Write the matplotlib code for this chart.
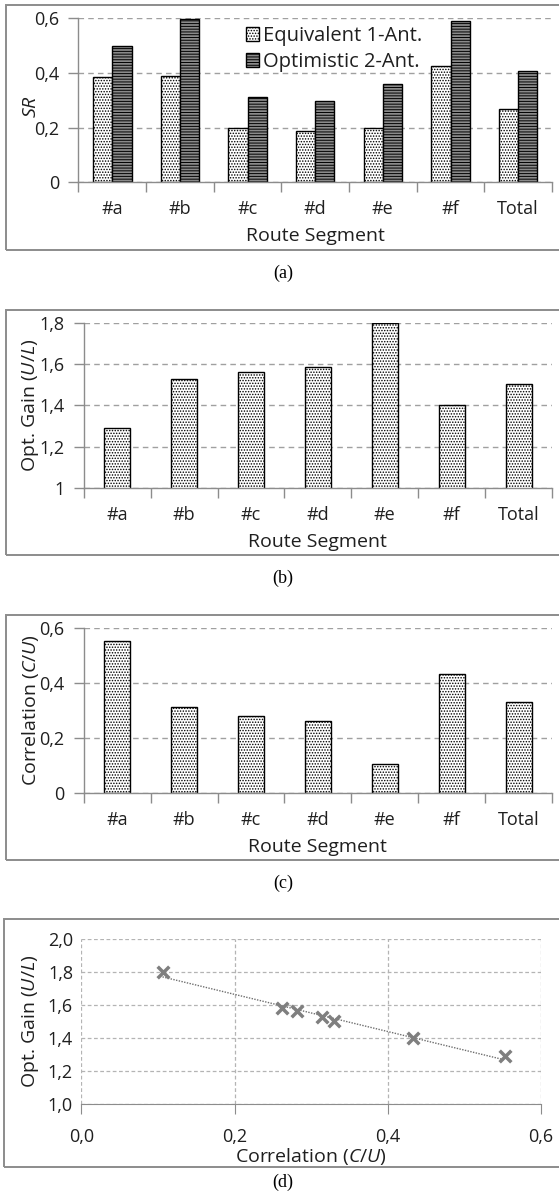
import matplotlib
matplotlib.use("Agg")
import matplotlib.pyplot as plt
import numpy as np
from matplotlib.patches import Rectangle

# route segments and measured values
segments = ["#a", "#b", "#c", "#d", "#e", "#f", "Total"]
sr_equiv = [0.383, 0.388, 0.199, 0.189, 0.199, 0.424, 0.269]
sr_optim = [0.496, 0.596, 0.313, 0.298, 0.358, 0.590, 0.407]
opt_gain = [1.290, 1.526, 1.563, 1.584, 1.800, 1.400, 1.505]
correlation = [0.553, 0.314, 0.281, 0.262, 0.106, 0.433, 0.330]

plt.rcParams["font.family"] = ["Open Sans", "DejaVu Sans"]
plt.rcParams["mathtext.fontset"] = "custom"
plt.rcParams["mathtext.it"] = "Open Sans:italic"
plt.rcParams["mathtext.rm"] = "Open Sans"
plt.rcParams["hatch.linewidth"] = 0.7

W, H = 559, 1200
txt = "#1f1f1f"
axc = "#8c8c8c"
gridc = "#a0a0a0"
fs_tick = 13
fs_lab = 14

fig = plt.figure(figsize=(W / 100, H / 100), dpi=100)


def px_axes(left, right, top, bottom):
    return fig.add_axes([left / W, 1 - bottom / H, (right - left) / W, (bottom - top) / H])


def frame(top, bottom, left=6):
    fig.patches.append(Rectangle((left / W, 1 - bottom / H), (W + 10 - left) / W, (bottom - top) / H,
                                 transform=fig.transFigure, fill=False, edgecolor=axc, lw=1.4))


def caption(s, y):
    fig.text(283 / W, 1 - y / H, s, ha="center", va="center", fontsize=13,
             family="Liberation Serif", color="black")


def bar_axes(ax, ylim, yticks, ylabels, ylabel):
    ax.set_xlim(-0.5, len(segments) - 0.5)
    ax.set_ylim(*ylim)
    ax.set_yticks(yticks)
    ax.set_yticklabels(ylabels)
    ax.set_xticks(range(len(segments)))
    ax.set_xticklabels(segments)
    ax.set_xticks(np.arange(-0.5, len(segments)), minor=True)
    for s in ["top", "right"]:
        ax.spines[s].set_visible(False)
    for s in ["left", "bottom"]:
        ax.spines[s].set_color(axc)
        ax.spines[s].set_linewidth(1.0)
    ax.tick_params(axis="x", which="major", length=0, pad=13, labelsize=fs_tick, labelcolor=txt)
    ax.tick_params(axis="x", which="minor", length=7, color=axc, width=1.0)
    ax.tick_params(axis="y", length=7, color=axc, width=1.0, pad=7, labelsize=fs_tick, labelcolor=txt)
    ax.yaxis.grid(True, ls=(0, (4, 3)), color=gridc, lw=1.0)
    ax.set_axisbelow(True)
    ax.set_xlabel("Route Segment", fontsize=fs_lab, color=txt, labelpad=6)
    ax.set_ylabel(ylabel, fontsize=fs_lab, color=txt)
    ax.yaxis.set_label_coords(-0.091, 0.5)


x = np.arange(len(segments))

# (a) SR per segment
ax1 = px_axes(78.4, 552, 17.8, 182.4)
bw = 0.285
ax1.bar(x - bw / 2, sr_equiv, bw, color="white", edgecolor="black", hatch="......", lw=1.0,
        label="Equivalent 1-Ant.")
ax1.bar(x + bw / 2, sr_optim, bw, color="#8a8a8a", edgecolor="black", hatch="------", lw=1.0,
        label="Optimistic 2-Ant.")
bar_axes(ax1, (0, 0.6), [0, 0.2, 0.4, 0.6], ["0", "0,2", "0,4", "0,6"], "$\\mathit{SR}$")
ax1.yaxis.set_label_coords(-0.081, 0.46)
ax1.legend(loc="upper left", bbox_to_anchor=(0.315, 1.06), frameon=False, fontsize=14.5,
           handlelength=0.65, handleheight=0.65, handletextpad=0.2, labelspacing=0.3,
           labelcolor=txt)
frame(5, 250)
caption("(a)", 273)

# (b) optimisation gain
ax2 = px_axes(83.8, 552, 322.7, 488.3)
ax2.bar(x, opt_gain, 0.39, bottom=0, color="white", edgecolor="black", hatch="......", lw=1.0)
bar_axes(ax2, (1, 1.8), [1, 1.2, 1.4, 1.6, 1.8], ["1", "1,2", "1,4", "1,6", "1,8"],
         "Opt. Gain ($\\mathit{U/L}$)")
frame(310, 555)
caption("(b)", 578)

# (c) correlation
ax3 = px_axes(83.8, 552, 627.7, 793.3)
ax3.bar(x, correlation, 0.39, color="white", edgecolor="black", hatch="......", lw=1.0)
bar_axes(ax3, (0, 0.6), [0, 0.2, 0.4, 0.6], ["0", "0,2", "0,4", "0,6"],
         "Correlation ($\\mathit{C/U}$)")
frame(615, 860)
caption("(c)", 883)

# (d) gain vs correlation with linear trend
ax4 = px_axes(81.3, 541, 939.3, 1104)
ax4.scatter(correlation, opt_gain, marker="x", s=70, color="#7f7f7f", linewidths=2.5, zorder=3)
k, c0 = np.polyfit(correlation, opt_gain, 1)
xt = np.array([min(correlation), max(correlation)])
ax4.plot(xt, k * xt + c0, ls=(0, (1, 1)), color="#6e6e6e", lw=1.0, zorder=2)
ax4.set_xlim(0, 0.6)
ax4.set_ylim(1.0, 2.0)
ax4.set_xticks([0, 0.2, 0.4, 0.6])
ax4.set_xticklabels(["0,0", "0,2", "0,4", "0,6"])
ax4.set_yticks([1.0, 1.2, 1.4, 1.6, 1.8, 2.0])
ax4.set_yticklabels(["1,0", "1,2", "1,4", "1,6", "1,8", "2,0"])
for s in ["top", "right", "left"]:
    ax4.spines[s].set_visible(False)
ax4.spines["bottom"].set_color(axc)
ax4.grid(True, ls=(0, (3, 2)), color="#b4b4b4", lw=0.9)
ax4.set_axisbelow(True)
ax4.tick_params(axis="x", length=7, color=axc, pad=10, labelsize=fs_tick, labelcolor=txt)
ax4.tick_params(axis="y", length=0, pad=6, labelsize=fs_tick, labelcolor=txt)
ax4.set_xlabel("Correlation ($\\mathit{C/U}$)", fontsize=fs_lab, color=txt, labelpad=0)
ax4.set_ylabel("Opt. Gain ($\\mathit{U/L}$)", fontsize=fs_lab, color=txt)
ax4.yaxis.set_label_coords(-0.088, 0.5)
frame(919, 1167, left=3.6)
caption("(d)", 1182)

fig.savefig("out.png", dpi=100, facecolor="white")
